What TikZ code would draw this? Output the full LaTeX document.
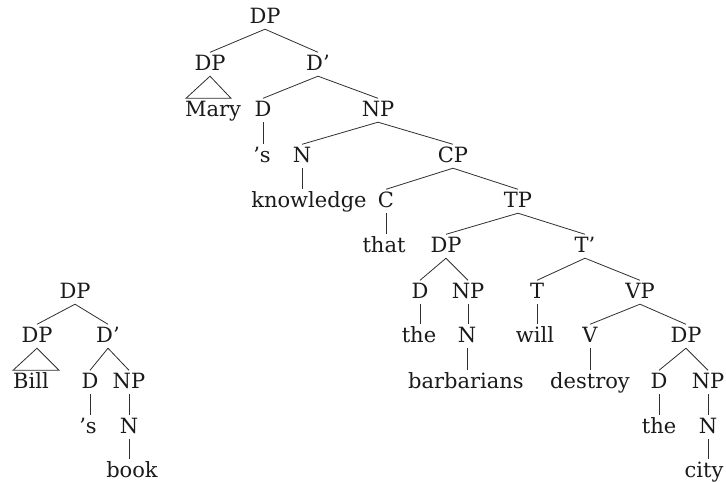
\documentclass[tikz,border=0pt]{standalone}
\usepackage{fontspec}
\setmainfont{DejaVu Serif}
\usetikzlibrary{calc}
\definecolor{ink}{HTML}{1A1A1A}
\definecolor{edge}{HTML}{2E2E2E}
\begin{document}
\begin{tikzpicture}[x=1pt,y=-1pt,
  tn/.style={anchor=base,text height=15pt,text depth=3.5pt,inner xsep=0pt,inner ysep=2.5pt,
    font=\fontsize{21}{24}\selectfont,text=ink},
  br/.style={draw=edge,line width=0.8pt}]
\useasboundingbox (0,0) rectangle (726,482);
% main tree
\node[tn] (r) at (265,23) {DP};
\node[tn] (dp1) at (210,70) {DP};
\node[tn] (db1) at (318,70) {D’};
\node[tn] (mary) at (213,116) {Mary};
\node[tn] (d1) at (263,116) {D};
\node[tn] (np1) at (378,116) {NP};
\node[tn] (s1) at (262,162) {’s};
\node[tn] (n1) at (302,162) {N};
\node[tn] (cp) at (453,162) {CP};
\node[tn] (know) at (309,207) {knowledge};
\node[tn] (c) at (386,207) {C};
\node[tn] (tp) at (518,207) {TP};
\node[tn] (that) at (384,252) {that};
\node[tn] (dp2) at (446,252) {DP};
\node[tn] (tb) at (585,252) {T’};
\node[tn] (d2) at (420,298) {D};
\node[tn] (np2) at (468,298) {NP};
\node[tn] (t) at (537,298) {T};
\node[tn] (vp) at (640,298) {VP};
\node[tn] (the1) at (419,342) {the};
\node[tn] (n2) at (467,342) {N};
\node[tn] (will) at (535,342) {will};
\node[tn] (v) at (590,342) {V};
\node[tn] (dp3) at (686,342) {DP};
\node[tn] (barb) at (466,388) {barbarians};
\node[tn] (destroy) at (590,388) {destroy};
\node[tn] (d3) at (659,388) {D};
\node[tn] (np3) at (708,388) {NP};
\node[tn] (the2) at (659,433) {the};
\node[tn] (n3) at (708,433) {N};
\node[tn] (city) at (704,477) {city};
% left tree
\node[tn] (lr) at (75,298) {DP};
\node[tn] (ldp) at (37,342) {DP};
\node[tn] (ldb) at (108,342) {D’};
\node[tn] (bill) at (31,388) {Bill};
\node[tn] (ld) at (90,388) {D};
\node[tn] (lnp) at (129,388) {NP};
\node[tn] (ls) at (88,433) {’s};
\node[tn] (ln) at (129,433) {N};
\node[tn] (book) at (132,477) {book};
% edges main
\draw[br] (r.south) -- (dp1.north);
\draw[br] (r.south) -- (db1.north);
\draw[br] (dp1.south) -- ($(mary.north)+(-27,0)$) -- ($(mary.north)+(18,0)$) -- cycle;
\draw[br] (db1.south) -- (d1.north);
\draw[br] (db1.south) -- (np1.north);
\draw[br] (d1.south) -- (d1.south |- s1.north);
\draw[br] (np1.south) -- (n1.north);
\draw[br] (np1.south) -- (cp.north);
\draw[br] (n1.south) -- (n1.south |- know.north);
\draw[br] (cp.south) -- (c.north);
\draw[br] (cp.south) -- (tp.north);
\draw[br] (c.south) -- (c.south |- that.north);
\draw[br] (tp.south) -- (dp2.north);
\draw[br] (tp.south) -- (tb.north);
\draw[br] (dp2.south) -- (d2.north);
\draw[br] (dp2.south) -- (np2.north);
\draw[br] (d2.south) -- (d2.south |- the1.north);
\draw[br] (np2.south) -- (np2.south |- n2.north);
\draw[br] (n2.south) -- (n2.south |- barb.north);
\draw[br] (tb.south) -- (t.north);
\draw[br] (tb.south) -- (vp.north);
\draw[br] (t.south) -- (t.south |- will.north);
\draw[br] (vp.south) -- (v.north);
\draw[br] (vp.south) -- (dp3.north);
\draw[br] (v.south) -- (v.south |- destroy.north);
\draw[br] (dp3.south) -- (d3.north);
\draw[br] (dp3.south) -- (np3.north);
\draw[br] (d3.south) -- (d3.south |- the2.north);
\draw[br] (np3.south) -- (np3.south |- n3.north);
\draw[br] (n3.south) -- (n3.south |- city.north);
% edges left
\draw[br] (lr.south) -- (ldp.north);
\draw[br] (lr.south) -- (ldb.north);
\draw[br] (ldp.south) -- ($(bill.north)+(-18,0)$) -- ($(bill.north)+(28,0)$) -- cycle;
\draw[br] (ldb.south) -- (ld.north);
\draw[br] (ldb.south) -- (lnp.north);
\draw[br] (ld.south) -- (ld.south |- ls.north);
\draw[br] (lnp.south) -- (lnp.south |- ln.north);
\draw[br] (ln.south) -- (ln.south |- book.north);
\end{tikzpicture}
\end{document}
